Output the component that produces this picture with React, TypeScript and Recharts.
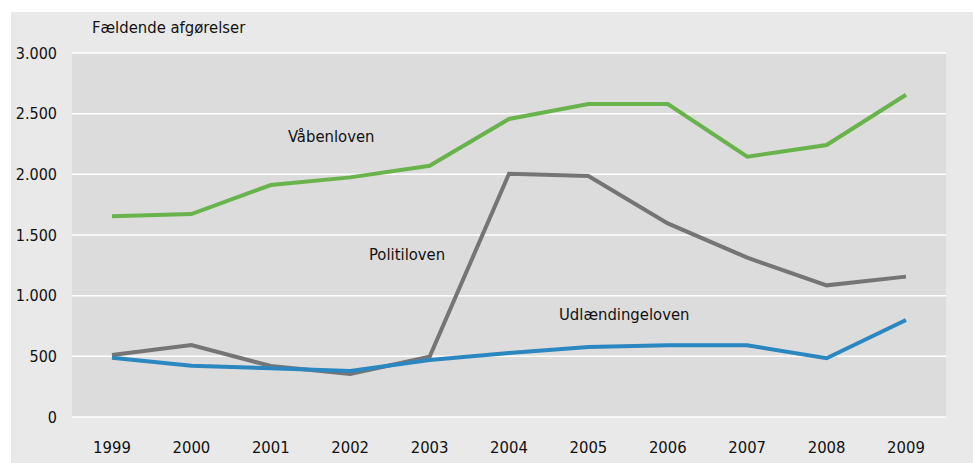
import { CartesianGrid, Line, LineChart, XAxis, YAxis } from "recharts";

const years = ["1999", "2000", "2001", "2002", "2003", "2004", "2005", "2006", "2007", "2008", "2009"];
const vaabenloven = [1655, 1673, 1912, 1975, 2071, 2456, 2580, 2580, 2145, 2242, 2656];
const politiloven = [511, 593, 420, 354, 497, 2005, 1986, 1596, 1313, 1085, 1157];
const udlaendingeloven = [489, 423, 401, 379, 470, 527, 577, 591, 591, 484, 800];
const yTicks = [0, 500, 1000, 1500, 2000, 2500, 3000];

const data = years.map((year, i) => ({
  year,
  vaaben: vaabenloven[i],
  politi: politiloven[i],
  udl: udlaendingeloven[i],
}));

const font = "'DejaVu Sans Condensed', 'Liberation Sans Narrow', 'DejaVu Sans', sans-serif";
const ink = "#111111";

const fmt = (v: number) => v.toLocaleString("de-DE");

function Note({ x, y, children }: { x: number; y: number; children: React.ReactNode }) {
  return (
    <div
      style={{
        position: "absolute",
        left: x,
        top: y - 10,
        lineHeight: "20px",
        fontSize: 16.5,
        fontFamily: font,
        color: ink,
        whiteSpace: "nowrap",
      }}
    >
      {children}
    </div>
  );
}

export default function App() {
  return (
    <div style={{ position: "absolute", left: 0, top: 0, width: 973, height: 463, background: "#fff" }}>
      <div style={{ position: "absolute", left: 11, top: 12, width: 962, height: 451, background: "#e9e9e9" }} />
      <div style={{ position: "absolute", left: 0, top: 0 }}>
        <LineChart width={973} height={463} data={data} margin={{ top: 53, right: 27, bottom: 16, left: 12 }}>
          <CartesianGrid fill="#dcdcdc" stroke="#ffffff" strokeWidth={1.5} vertical={false} />
          <XAxis
            dataKey="year"
            height={30}
            padding={{ left: 40, right: 40 }}
            axisLine={false}
            tickLine={false}
            tickSize={0}
            tickMargin={24}
            interval={0}
            tick={{ fill: ink, fontSize: 16.5, fontFamily: font }}
          />
          <YAxis
            width={60}
            domain={[0, 3000]}
            ticks={yTicks}
            tickFormatter={fmt}
            axisLine={false}
            tickLine={false}
            tickSize={0}
            tickMargin={15}
            tick={{ fill: ink, fontSize: 16, fontFamily: font }}
          />
          <Line dataKey="vaaben" stroke="#69b34c" strokeWidth={4} dot={false} isAnimationActive={false} />
          <Line dataKey="politi" stroke="#757575" strokeWidth={4} dot={false} isAnimationActive={false} />
          <Line dataKey="udl" stroke="#2a87c0" strokeWidth={4} dot={false} isAnimationActive={false} />
        </LineChart>
      </div>
      <Note x={92} y={28}>Fældende afgørelser</Note>
      <Note x={288} y={137}>Våbenloven</Note>
      <Note x={369} y={255}>Politiloven</Note>
      <Note x={559} y={315}>Udlændingeloven</Note>
    </div>
  );
}
